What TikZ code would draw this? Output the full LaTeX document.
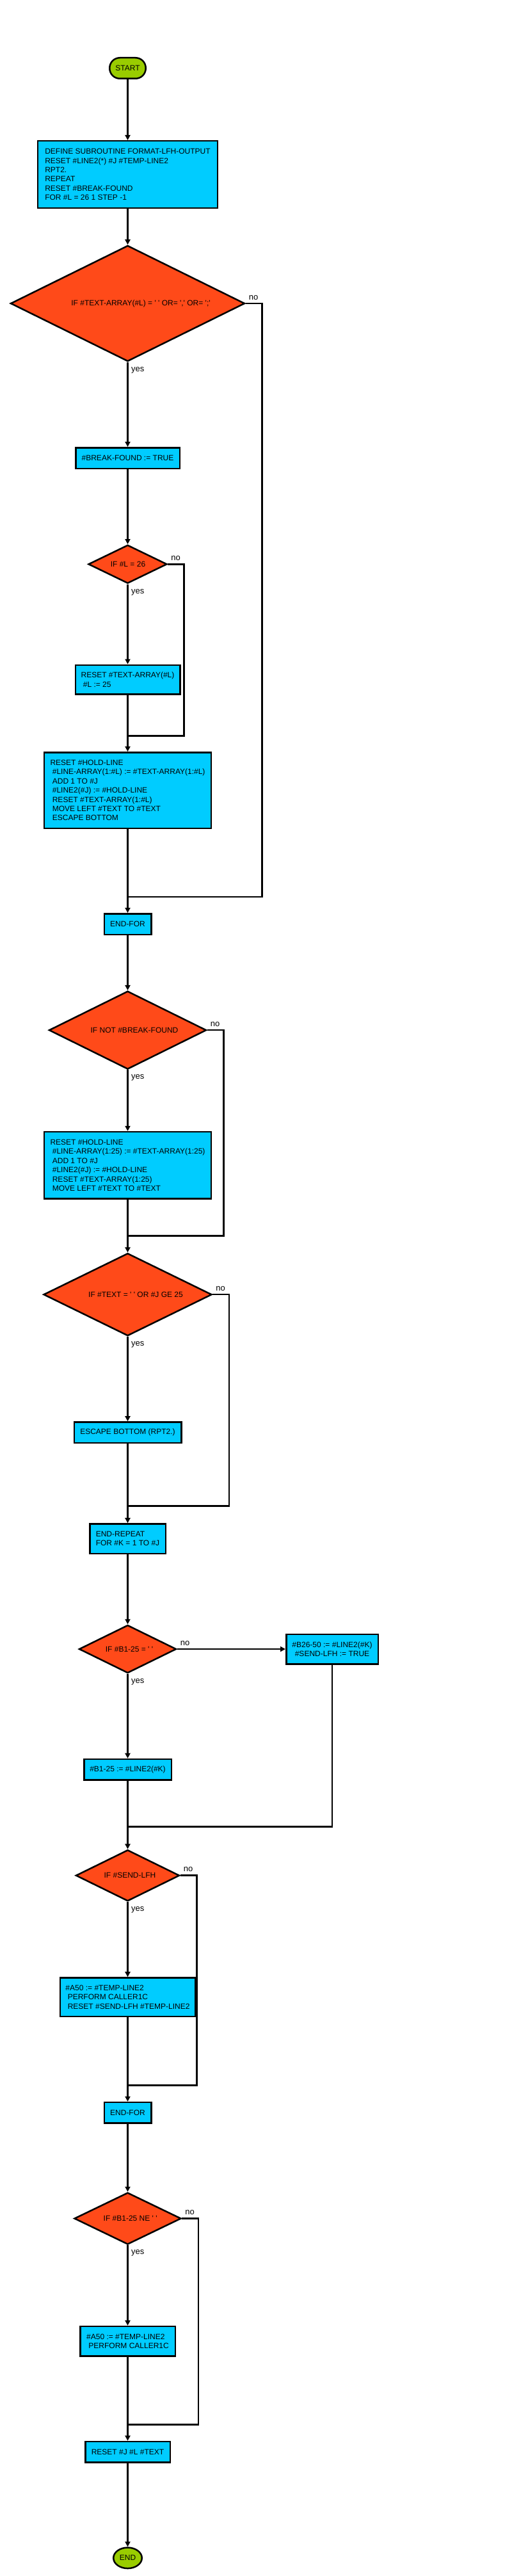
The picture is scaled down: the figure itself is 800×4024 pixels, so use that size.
\documentclass[tikz,border=0pt]{standalone}
\usepackage{fontspec}
\setmainfont{Liberation Sans}[Ligatures=TeXOff]
\usetikzlibrary{shapes.geometric,arrows.meta,calc}
\definecolor{boxcyan}{HTML}{00CCFF}
\definecolor{decred}{HTML}{FF4A19}
\definecolor{termgreen}{HTML}{99CC00}
\newcommand\lsp{\hspace*{3.3bp}}
\begin{document}
\begin{tikzpicture}[x=1bp,y=-1bp,
  every node/.style={font=\fontsize{12bp}{14.4bp}\selectfont, text=black},
  procbox/.style={draw=black, line width=2.5bp, fill=boxcyan, rectangle, inner sep=0pt, align=left},
  decision/.style={draw=black, line width=2.5bp, fill=decred, diamond, inner sep=0pt},
  terminal/.style={draw=black, line width=2.5bp, fill=termgreen, inner sep=0pt},
  dtext/.style={inner sep=0pt},
  lab/.style={inner sep=0pt, anchor=base west, font=\fontsize{13bp}{15bp}\selectfont},
  conn/.style={draw=black, line width=2.5bp},
  arr/.style={conn, -{Triangle[length=8bp,width=8bp]}},
]
\path[use as bounding box, fill=white] (0,0) rectangle (800,4024);

% nodes
\node[terminal, rounded corners=16bp, minimum width=56.5bp, minimum height=32.5bp] (start) at (199.5,106.5) {START};
\node[procbox, minimum width=280.5bp, minimum height=104.5bp] (b1) at (199.5,272.5) {DEFINE SUBROUTINE FORMAT-LFH-OUTPUT\\RESET \#LINE2(*) \#J \#TEMP-LINE2\\RPT2.\\REPEAT\\RESET \#BREAK-FOUND\\FOR \#L = 26 1 STEP -1};
\node[decision, minimum width=366bp, minimum height=181bp] (d1) at (199.5,474) {};
\node[dtext] (d1t) at (220,474) {IF \#TEXT-ARRAY(\#L) = ' ' OR= ',' OR= ';'};
\node[procbox, align=center, minimum width=162.5bp, minimum height=32.5bp] (b2) at (199.5,715.5) {\#BREAK-FOUND := TRUE};
\node[decision, minimum width=123bp, minimum height=60bp] (d2) at (199.5,881.3) {};
\node[dtext] (d2t) at (200,881.3) {IF \#L = 26};
\node[procbox, minimum width=163.5bp, minimum height=45.5bp] (b3) at (199.5,1061.5) {RESET \#TEXT-ARRAY(\#L)\\\lsp\#L := 25};
\node[procbox, minimum width=260.5bp, minimum height=118.5bp] (b4) at (199.5,1234.5) {RESET \#HOLD-LINE\\\lsp\#LINE-ARRAY(1:\#L) := \#TEXT-ARRAY(1:\#L)\\\lsp ADD 1 TO \#J\\\lsp\#LINE2(\#J) := \#HOLD-LINE\\\lsp RESET \#TEXT-ARRAY(1:\#L)\\\lsp MOVE LEFT \#TEXT TO \#TEXT\\\lsp ESCAPE BOTTOM};
\node[procbox, align=center, minimum width=73.5bp, minimum height=32.5bp] (ef1) at (199.5,1443.5) {END-FOR};
\node[decision, minimum width=246bp, minimum height=122bp] (d3) at (199.5,1609.2) {};
\node[dtext] (d3t) at (210,1609.2) {IF NOT \#BREAK-FOUND};
\node[procbox, minimum width=260.5bp, minimum height=104.5bp] (b5) at (199.5,1820.3) {RESET \#HOLD-LINE\\\lsp\#LINE-ARRAY(1:25) := \#TEXT-ARRAY(1:25)\\\lsp ADD 1 TO \#J\\\lsp\#LINE2(\#J) := \#HOLD-LINE\\\lsp RESET \#TEXT-ARRAY(1:25)\\\lsp MOVE LEFT \#TEXT TO \#TEXT};
\node[decision, minimum width=263bp, minimum height=129bp] (d4) at (199.5,2022.2) {};
\node[dtext] (d4t) at (212,2022.2) {IF \#TEXT = ' ' OR \#J GE 25};
\node[procbox, align=center, minimum width=167.5bp, minimum height=32.5bp] (b6) at (199.5,2237.7) {ESCAPE BOTTOM (RPT2.)};
\node[procbox, minimum width=118.5bp, minimum height=46.5bp] (b7) at (199.5,2403.7) {END-REPEAT\\FOR \#K = 1 TO \#J};
\node[decision, minimum width=152bp, minimum height=75bp] (d5) at (199.5,2576) {};
\node[dtext] (d5t) at (202,2576) {IF \#B1-25 = ' '};
\node[procbox, align=center, minimum width=143.5bp, minimum height=46.5bp] (b8) at (519,2576) {\#B26-50 := \#LINE2(\#K)\\\#SEND-LFH := TRUE};
\node[procbox, align=center, minimum width=136.5bp, minimum height=32.5bp] (b9) at (199.5,2764.2) {\#B1-25 := \#LINE2(\#K)};
\node[decision, minimum width=162bp, minimum height=80bp] (d6) at (199.5,2929.7) {};
\node[dtext] (d6t) at (203,2929.7) {IF \#SEND-LFH};
\node[procbox, minimum width=211.5bp, minimum height=60.5bp] (b10) at (199.5,3119.7) {\#A50 := \#TEMP-LINE2\\\lsp PERFORM CALLER1C\\\lsp RESET \#SEND-LFH \#TEMP-LINE2};
\node[procbox, align=center, minimum width=73.5bp, minimum height=32.5bp] (ef2) at (199.5,3300.3) {END-FOR};
\node[decision, minimum width=167bp, minimum height=81bp] (d7) at (199.5,3465.5) {};
\node[dtext] (d7t) at (203.7,3465.5) {IF \#B1-25 NE ' '};
\node[procbox, minimum width=148.5bp, minimum height=46.5bp] (b11) at (199.5,3657.2) {\#A50 := \#TEMP-LINE2\\\lsp PERFORM CALLER1C};
\node[procbox, align=center, minimum width=132.5bp, minimum height=32.5bp] (b12) at (199.5,3830.2) {RESET \#J \#L \#TEXT};
\node[terminal, ellipse, minimum width=44.5bp, minimum height=32.5bp] (end) at (199.5,3995.8) {END};

% yes / no labels
\node[lab] (y1) at ($(d1.south)+(5.5,14.5)$) {yes};
\node[lab] (y2) at ($(d2.south)+(5.5,14.5)$) {yes};
\node[lab] (y3) at ($(d3.south)+(5.5,14.5)$) {yes};
\node[lab] (y4) at ($(d4.south)+(5.5,14.5)$) {yes};
\node[lab] (y5) at ($(d5.south)+(5.5,14.5)$) {yes};
\node[lab] (y6) at ($(d6.south)+(5.5,14.5)$) {yes};
\node[lab] (y7) at ($(d7.south)+(5.5,14.5)$) {yes};
\node[lab] (n1) at ($(d1.east)+(5,-6)$) {no};
\node[lab] (n2) at ($(d2.east)+(5,-6)$) {no};
\node[lab] (n3) at ($(d3.east)+(5,-6)$) {no};
\node[lab] (n4) at ($(d4.east)+(5,-6)$) {no};
\node[lab] (n5) at ($(d5.east)+(5,-6)$) {no};
\node[lab] (n6) at ($(d6.east)+(5,-6)$) {no};
\node[lab] (n7) at ($(d7.east)+(5,-6)$) {no};

% loop coordinates
\coordinate (c1) at (409.5,474);    \coordinate (j1) at (199.5,1401);
\coordinate (c2) at (287.7,881.3);  \coordinate (j2) at (199.5,1149.3);
\coordinate (c3) at (349.7,1609.2); \coordinate (j3) at (199.5,1930.7);
\coordinate (c4) at (358,2022.2);   \coordinate (j4) at (199.5,2352.7);
\coordinate (j5) at (199.5,2853.3);
\coordinate (c6) at (307.3,2929.7); \coordinate (j6) at (199.5,3257.3);
\coordinate (c7) at (310,3465.5);   \coordinate (j7) at (199.5,3787.7);

% main connectors
\draw[arr] (start) -- (b1);
\draw[arr] (b1) -- (d1);
\draw[arr] (d1) -- (b2);
\draw[arr] (b2) -- (d2);
\draw[arr] (d2) -- (b3);
\draw[arr] (b3) -- (b4);
\draw[arr] (b4) -- (ef1);
\draw[arr] (ef1) -- (d3);
\draw[arr] (d3) -- (b5);
\draw[arr] (b5) -- (d4);
\draw[arr] (d4) -- (b6);
\draw[arr] (b6) -- (b7);
\draw[arr] (b7) -- (d5);
\draw[arr] (d5) -- (b9);
\draw[arr] (d5.east) -- (b8.west);
\draw[arr] (b9) -- (d6);
\draw[arr] (d6) -- (b10);
\draw[arr] (b10) -- (ef2);
\draw[arr] (ef2) -- (d7);
\draw[arr] (d7) -- (b11);
\draw[arr] (b11) -- (b12);
\draw[arr] (b12) -- (end);

% "no" loops
\draw[conn] (d1.east) -- (c1) |- (j1);
\draw[conn] (d2.east) -- (c2) |- (j2);
\draw[conn] (d3.east) -- (c3) |- (j3);
\draw[conn] (d4.east) -- (c4) |- (j4);
\draw[conn] (b8.south) |- (j5);
\draw[conn] (d6.east) -- (c6) |- (j6);
\draw[conn] (d7.east) -- (c7) |- (j7);
\end{tikzpicture}
\end{document}
